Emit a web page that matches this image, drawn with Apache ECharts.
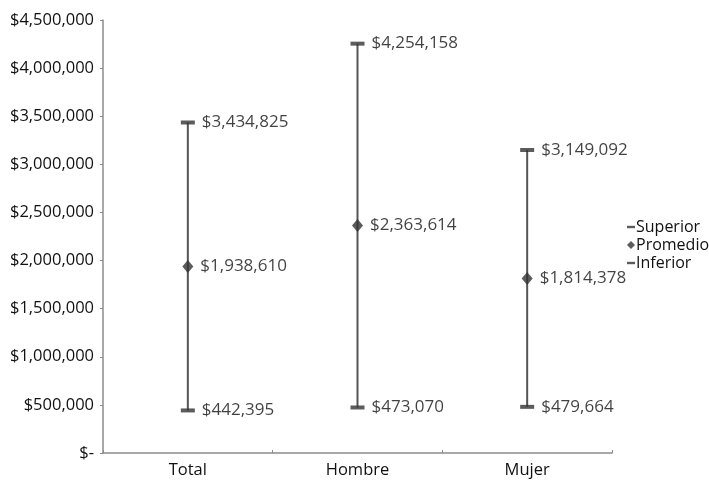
<!DOCTYPE html>
<html>
<head>
<meta charset="utf-8">
<script src="https://cdn.jsdelivr.net/npm/echarts@6/dist/echarts.min.js"></script>
<style>
  html, body { margin: 0; padding: 0; background: #fff; }
  #chart { width: 709px; height: 480px; }
</style>
</head>
<body>
<div id="chart"></div>
<script>
// Categories and range values
const categories = ['Total', 'Hombre', 'Mujer'];
const superior = [3434825, 4254158, 3149092];
const promedio = [1938610, 2363614, 1814378];
const inferior = [442395, 473070, 479664];

const FONT = '"Open Sans", "Noto Sans", sans-serif';
const INK = '#333333';
const TEXT = '#111111';

function money(v) {
  if (v === 0) return '$-';
  return '$' + Math.round(v).toLocaleString('en-US');
}

const rangeData = categories.map((c, i) => [i, inferior[i], superior[i]]);

const label = {
  show: true,
  position: 'right',
  distance: 7,
  color: TEXT,
  fontFamily: FONT,
  fontSize: 17,
  formatter: p => money(p.value)
};

const chart = echarts.init(document.getElementById('chart'));
chart.setOption({
  animation: false,
  backgroundColor: '#fff',
  grid: { left: 103, right: 97, top: 20, bottom: 27 },
  legend: {
    orient: 'vertical',
    left: 622,
    top: 214,
    itemGap: 2,
    itemWidth: 8,
    itemHeight: 8,
    textStyle: { fontFamily: FONT, fontSize: 16, color: TEXT, padding: [0, 0, 0, -4] },
    data: [
      { name: 'Superior', icon: 'path://M0,0 L10,0 L10,3 L0,3 Z' },
      { name: 'Promedio', icon: 'diamond' },
      { name: 'Inferior', icon: 'path://M0,0 L10,0 L10,3 L0,3 Z' }
    ]
  },
  xAxis: {
    type: 'category',
    data: categories,
    axisLine: { lineStyle: { color: '#8c8c8c', width: 1.5 } },
    axisTick: { show: true, inside: true, length: 3, lineStyle: { color: '#8c8c8c' } },
    axisLabel: { fontFamily: FONT, fontSize: 16.5, color: TEXT, margin: 9 }
  },
  yAxis: {
    type: 'value',
    min: 0,
    max: 4500000,
    interval: 500000,
    splitLine: { show: false },
    axisLine: { show: true, lineStyle: { color: '#8c8c8c', width: 1.5 } },
    axisTick: { show: true, length: 3, lineStyle: { color: '#8c8c8c' } },
    axisLabel: { fontFamily: FONT, fontSize: 16.5, color: TEXT, margin: 9, formatter: money }
  },
  series: [
    {
      type: 'custom',
      name: 'rango',
      data: rangeData,
      z: 1,
      renderItem: (params, api) => {
        const lo = api.coord([api.value(0), api.value(1)]);
        const hi = api.coord([api.value(0), api.value(2)]);
        return {
          type: 'line',
          shape: { x1: lo[0], y1: lo[1], x2: hi[0], y2: hi[1] },
          style: { stroke: '#555555', lineWidth: 2 }
        };
      }
    },
    {
      type: 'scatter',
      name: 'Superior',
      data: superior,
      symbol: 'rect',
      symbolSize: [14, 4],
      itemStyle: { color: INK },
      label: label,
      z: 3
    },
    {
      type: 'scatter',
      name: 'Promedio',
      data: promedio,
      symbol: 'diamond',
      symbolSize: [11, 13],
      itemStyle: { color: INK },
      label: label,
      z: 3
    },
    {
      type: 'scatter',
      name: 'Inferior',
      data: inferior,
      symbol: 'rect',
      symbolSize: [14, 4],
      itemStyle: { color: INK },
      label: label,
      z: 3
    }
  ]
});
</script>
</body>
</html>
